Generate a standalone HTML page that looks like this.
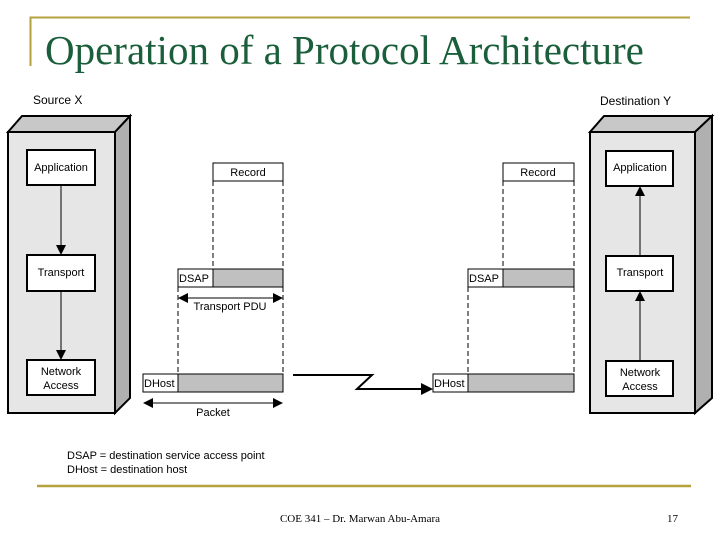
<!DOCTYPE html>
<html><head><meta charset="utf-8"><style>
html,body{margin:0;padding:0;background:#fff;}
svg{display:block;}
</style></head><body>
<svg width="720" height="540" viewBox="0 0 720 540" xmlns="http://www.w3.org/2000/svg" font-family="Liberation Sans, sans-serif">
<defs>
<marker id="ar" markerWidth="10" markerHeight="10" refX="9" refY="5" orient="auto" markerUnits="userSpaceOnUse"><path d="M0,0 L10,5 L0,10 z" fill="#000"/></marker>
</defs>
<path d="M30.5,66 V17.5 H690" stroke="#b5a23c" stroke-width="2" fill="none"/>
<text x="45" y="64" font-family="Liberation Serif, serif" font-size="41" fill="#1b5e3b">Operation of a Protocol Architecture</text>
<text x="33" y="104" font-size="12">Source X</text>
<text x="600" y="105" font-size="12">Destination Y</text>

<polygon points="8,132 22,116 130,116 115,132" fill="#c8c8c8" stroke="#000" stroke-width="2"/>
<polygon points="115,132 130,116 130,398 115,413" fill="#b0b0b0" stroke="#000" stroke-width="2"/>
<rect x="8" y="132" width="107" height="281" fill="#e6e6e6" stroke="#000" stroke-width="2"/>
<rect x="27" y="150" width="68" height="35" fill="#fff" stroke="#000" stroke-width="2"/>
<text x="61" y="171" font-size="11" text-anchor="middle">Application</text>
<rect x="27" y="255" width="68" height="36" fill="#fff" stroke="#000" stroke-width="2"/>
<text x="61" y="276" font-size="11" text-anchor="middle">Transport</text>
<rect x="27" y="360" width="68" height="35" fill="#fff" stroke="#000" stroke-width="2"/>
<text x="61" y="375" font-size="11" text-anchor="middle">Network</text>
<text x="61" y="389" font-size="11" text-anchor="middle">Access</text>
<line x1="61" y1="186" x2="61" y2="254" stroke="#000" marker-end="url(#ar)"/>
<line x1="61" y1="291" x2="61" y2="359" stroke="#000" marker-end="url(#ar)"/>

<polygon points="590,132 604,116 712,116 695,132" fill="#c8c8c8" stroke="#000" stroke-width="2"/>
<polygon points="695,132 712,116 712,398 695,413" fill="#b0b0b0" stroke="#000" stroke-width="2"/>
<rect x="590" y="132" width="105" height="281" fill="#e6e6e6" stroke="#000" stroke-width="2"/>
<rect x="606" y="151" width="67" height="35" fill="#fff" stroke="#000" stroke-width="2"/>
<text x="640" y="171" font-size="11" text-anchor="middle">Application</text>
<rect x="606" y="256" width="67" height="35" fill="#fff" stroke="#000" stroke-width="2"/>
<text x="640" y="276" font-size="11" text-anchor="middle">Transport</text>
<rect x="606" y="361" width="67" height="35" fill="#fff" stroke="#000" stroke-width="2"/>
<text x="640" y="376" font-size="11" text-anchor="middle">Network</text>
<text x="640" y="390" font-size="11" text-anchor="middle">Access</text>
<line x1="640" y1="255" x2="640" y2="187" stroke="#000" marker-end="url(#ar)"/>
<line x1="640" y1="360" x2="640" y2="292" stroke="#000" marker-end="url(#ar)"/>

<g stroke="#000" stroke-width="1" stroke-dasharray="5,3">
<line x1="213" y1="181" x2="213" y2="269"/><line x1="283" y1="181" x2="283" y2="269"/>
<line x1="178" y1="287" x2="178" y2="374"/><line x1="283" y1="287" x2="283" y2="374"/>
<line x1="503" y1="181" x2="503" y2="269"/><line x1="574" y1="181" x2="574" y2="269"/>
<line x1="468" y1="287" x2="468" y2="374"/><line x1="574" y1="287" x2="574" y2="374"/>
</g>
<rect x="213" y="163" width="70" height="18" fill="#fff" stroke="#000"/>
<text x="248" y="176" font-size="11" text-anchor="middle">Record</text>
<rect x="178" y="269" width="105" height="18" fill="#c0c0c0" stroke="#000"/>
<rect x="178" y="269" width="35" height="18" fill="#fff" stroke="#000"/>
<text x="179" y="282" font-size="11">DSAP</text>
<line x1="188" y1="298" x2="273" y2="298" stroke="#000"/>
<path d="M178,298 l10,-5 v10z M283,298 l-10,-5 v10z"/>
<text x="230" y="310" font-size="11" text-anchor="middle">Transport PDU</text>
<rect x="143" y="374" width="140" height="18" fill="#c0c0c0" stroke="#000"/>
<rect x="143" y="374" width="35" height="18" fill="#fff" stroke="#000"/>
<text x="144" y="387" font-size="11">DHost</text>
<line x1="153" y1="403" x2="273" y2="403" stroke="#000"/>
<path d="M143,403 l10,-5 v10z M283,403 l-10,-5 v10z"/>
<text x="213" y="416" font-size="11" text-anchor="middle">Packet</text>

<rect x="503" y="163" width="71" height="18" fill="#fff" stroke="#000"/>
<text x="538" y="176" font-size="11" text-anchor="middle">Record</text>
<rect x="468" y="269" width="106" height="18" fill="#c0c0c0" stroke="#000"/>
<rect x="468" y="269" width="35" height="18" fill="#fff" stroke="#000"/>
<text x="469" y="282" font-size="11">DSAP</text>
<rect x="433" y="374" width="141" height="18" fill="#c0c0c0" stroke="#000"/>
<rect x="433" y="374" width="35" height="18" fill="#fff" stroke="#000"/>
<text x="434" y="387" font-size="11">DHost</text>

<polyline points="293,375 372,375 357,389 422,389" fill="none" stroke="#000" stroke-width="2"/>
<path d="M433,389 l-12,-6 v12z"/>

<text x="67" y="459" font-size="11">DSAP = destination service access point</text>
<text x="67" y="473" font-size="11">DHost = destination host</text>

<line x1="37" y1="486" x2="691" y2="486" stroke="#b5a23c" stroke-width="2.5"/>
<text x="360" y="522" font-family="Liberation Serif, serif" font-size="11" text-anchor="middle">COE 341 – Dr. Marwan Abu-Amara</text>
<text x="667" y="522" font-family="Liberation Serif, serif" font-size="11">17</text>
</svg>
</body></html>
